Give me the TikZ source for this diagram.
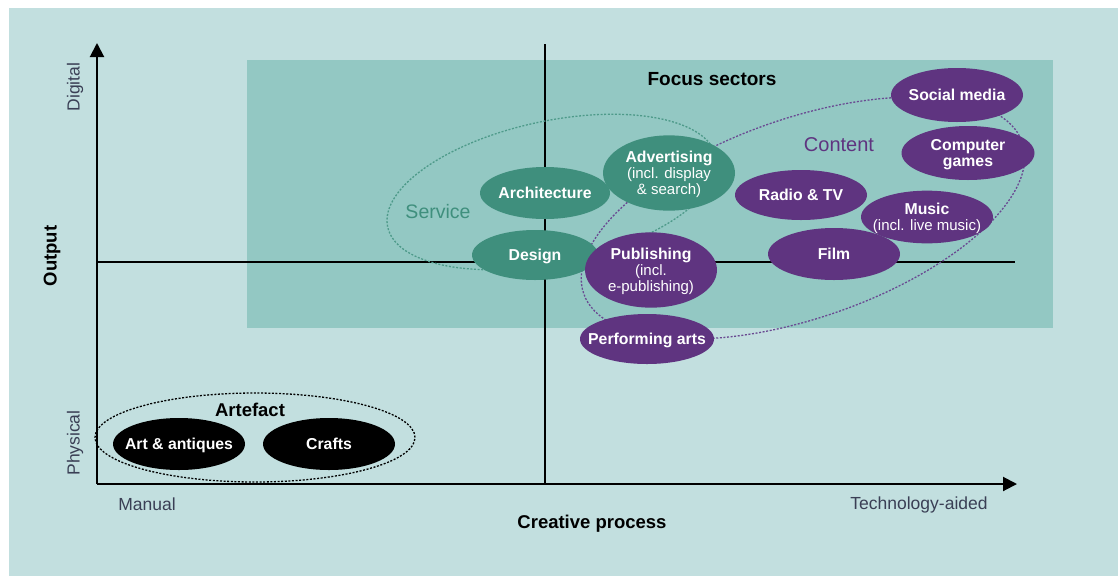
\documentclass[tikz,border=0pt]{standalone}
\usepackage{fontspec}
\setmainfont{Liberation Sans}
\usetikzlibrary{shapes.geometric,arrows.meta}
\definecolor{bg}{HTML}{C2DFDF}
\definecolor{focus}{HTML}{93C8C3}
\definecolor{grn}{HTML}{3F8F7D}
\definecolor{pur}{HTML}{5F3480}
\definecolor{grndash}{HTML}{4E9A8A}
\definecolor{purdash}{HTML}{6A4A92}
\definecolor{axtxt}{HTML}{3A3F55}
\newcommand{\etx}[1]{\makebox[0pt]{\raisebox{0pt}[\dimexpr\height+5pt\relax][\depth]{\begin{tabular}{@{}c@{}}#1\end{tabular}}}}
\newcommand{\subtxt}[1]{{\mdseries\fontsize{15}{16}\selectfont #1}}
\tikzset{
  axisline/.style={line width=2pt, black},
  midline/.style={line width=1.6pt, black},
  ring/.style={draw, ellipse, line width=1.3pt, dash pattern=on 2pt off 1.6pt, inner sep=0pt},
  blob/.style={ellipse, inner sep=0pt, text=white, font=\bfseries\fontsize{15.8}{16}\selectfont},
  gblob/.style={blob, fill=grn},
  pblob/.style={blob, fill=pur},
  kblob/.style={blob, fill=black},
  axlabel/.style={text=axtxt, font=\fontsize{17.5}{18}\selectfont, inner sep=0pt},
  axtitle/.style={text=black, font=\bfseries\fontsize{18.5}{19}\selectfont, inner sep=0pt},
}
\begin{document}
\begin{tikzpicture}[x=1pt,y=-1pt]
\useasboundingbox (0,0) rectangle (1118,576);
\fill[white] (0,0) rectangle (1118,576);
\fill[bg] (9,8) rectangle (1118,576);
\fill[focus] (247,60) rectangle (1053,328);
% axes
\coordinate (o) at (97,484);
\coordinate (ytop) at (97,43);
\coordinate (xend) at (1017,484);
\coordinate (hl) at (97,262);
\coordinate (hr) at (1015,262);
\coordinate (vt) at (545,44);
\coordinate (vb) at (545,484);
\draw[midline] (hl) -- (hr);
\draw[midline] (vt) -- (vb);
\draw[axisline, -{Triangle[length=14pt,width=14pt]}] (o) -- (ytop);
\draw[axisline, -{Triangle[length=14pt,width=14pt]}] (o) -- (xend);
% group rings
\node[ring, grndash, rotate=12, minimum width=336pt, minimum height=142pt] (service) at (552,192) {};
\node[ring, purdash, rotate=19, minimum width=464pt, minimum height=200pt] (content) at (803,218) {};
\node[ring, black, minimum width=320pt, minimum height=89pt] (artefact) at (255,437.5) {};
% labels
\node[text=black, font=\bfseries\fontsize{19}{20}\selectfont] (focuslbl) at (712,79) {Focus sectors};
\node[text=grn, font=\fontsize{19.5}{20}\selectfont] (servicelbl) at (438,212) {Service};
\node[text=pur, font=\fontsize{20}{21}\selectfont] (contentlbl) at (839,145) {Content};
\node[text=black, font=\bfseries\fontsize{18.5}{19}\selectfont] (artefactlbl) at (250,410) {Artefact};
% green blobs
\node[gblob, minimum width=130pt, minimum height=52pt] (arch) at (545,193) {\etx{Architecture}};
\node[gblob, minimum width=126pt, minimum height=50pt] (design) at (535,255) {\etx{Design}};
\node[gblob, minimum width=132pt, minimum height=74pt] (adv) at (669,173) {\etx{Advertising\\ \subtxt{(incl. display}\\ \subtxt{\& search)}}};
% purple blobs
\node[pblob, minimum width=132pt, minimum height=70pt] (pub) at (651,270) {\etx{Publishing\\ \subtxt{(incl.}\\ \subtxt{e-publishing)}}};
\node[pblob, minimum width=134pt, minimum height=50pt] (perf) at (647,339) {\etx{Performing arts}};
\node[pblob, minimum width=132pt, minimum height=50pt] (radio) at (801,195) {\etx{Radio \& TV}};
\node[pblob, minimum width=132pt, minimum height=51pt] (music) at (927,217) {\etx{Music\\ \subtxt{(incl. live music)}}};
\node[pblob, minimum width=132pt, minimum height=52pt] (film) at (834,254) {\etx{Film}};
\node[pblob, minimum width=132pt, minimum height=54pt] (social) at (957,95) {\etx{Social media}};
\node[pblob, minimum width=133pt, minimum height=54pt] (games) at (968,153) {\etx{Computer\\ games}};
% black blobs
\node[kblob, minimum width=132pt, minimum height=52pt] (art) at (179,444) {\etx{Art \& antiques}};
\node[kblob, minimum width=132pt, minimum height=52pt] (crafts) at (329,444) {\etx{Crafts}};
% axis labels
\node[axlabel, rotate=90] (digital) at (75,87) {Digital};
\node[axlabel, rotate=90] (physical) at (75,443) {Physical};
\node[axtitle, rotate=90] (output) at (52,256) {Output};
\node[axlabel] (manual) at (147,504) {Manual};
\node[axlabel] (tech) at (919,505) {Technology-aided};
\node[axtitle] (creative) at (592,524) {Creative process};
\end{tikzpicture}
\end{document}
